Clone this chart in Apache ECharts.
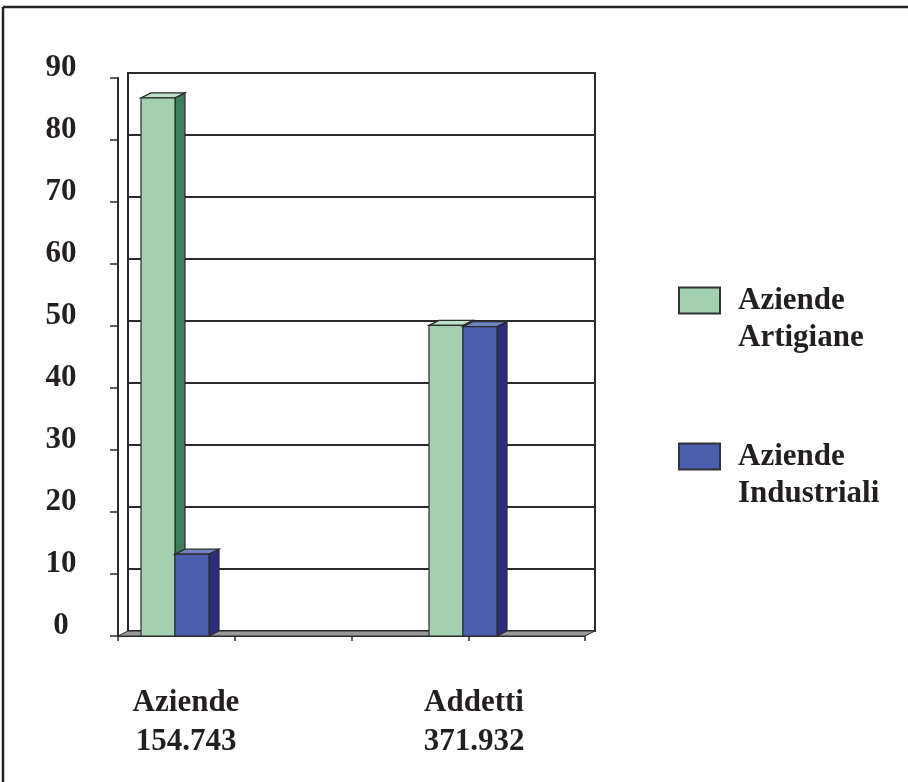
<!DOCTYPE html>
<html>
<head>
<meta charset="utf-8">
<script src="https://cdn.jsdelivr.net/npm/echarts@6/dist/echarts.min.js"></script>
<style>
html,body{margin:0;padding:0;background:#fff;}
#chart{width:908px;height:782px;}
</style>
</head>
<body>
<div id="chart"></div>
<script>
// ---- data ----
const categories = ['Aziende', 'Addetti'];
const categoryTotals = ['154.743', '371.932'];
const seriesNames = ['Aziende Artigiane', 'Aziende Industriali'];
const artigianeValues = [86.8, 50.1];
const industrialiValues = [13.2, 49.9];
const yMin = 0, yMax = 90, yInterval = 10;

// ---- styles ----
const FONT = "'Liberation Serif', 'Times New Roman', serif";
const TXT = '#231f20';
const LINE = '#2b2b2b';
const palettes = [
  { front: '#a2d0b0', side: '#3e7e5d', top: '#bfe0c8', offset: -45 },
  { front: '#4b5fac', side: '#2b2d7c', top: '#7283c4', offset: -11 }
];
const BAR_W = 34, DX = 10, DY = -5;

function makeRender(p) {
  return function (params, api) {
    const i = api.value(0);
    const top = api.coord([i, api.value(1)]);
    const bot = api.coord([i, 0]);
    const x0 = top[0] + p.offset;
    const x1 = x0 + BAR_W;
    const yT = top[1], yB = bot[1];
    const stroke = { stroke: LINE, lineWidth: 1.2 };
    return {
      type: 'group',
      children: [
        { type: 'polygon', shape: { points: [[x1, yT], [x1 + DX, yT + DY], [x1 + DX, yB + DY], [x1, yB]] },
          style: Object.assign({ fill: p.side }, stroke) },
        { type: 'polygon', shape: { points: [[x0, yT], [x0 + DX, yT + DY], [x1 + DX, yT + DY], [x1, yT]] },
          style: Object.assign({ fill: p.top }, stroke) },
        { type: 'rect', shape: { x: x0, y: yT, width: BAR_W, height: yB - yT },
          style: Object.assign({ fill: p.front }, stroke) }
      ]
    };
  };
}

const seriesValues = [artigianeValues, industrialiValues];
const series = seriesNames.map((name, s) => ({
  name: name,
  type: 'custom',
  xAxisIndex: 2,
  yAxisIndex: 2,
  itemStyle: { color: palettes[s].front, borderColor: '#333', borderWidth: 1.5 },
  encode: { x: 0, y: 1 },
  data: seriesValues[s].map((v, i) => [i, v]),
  renderItem: makeRender(palettes[s]),
  z: 3
}));

const chart = echarts.init(document.getElementById('chart'), null, { renderer: 'canvas' });
chart.setOption({
  backgroundColor: '#ffffff',
  animation: false,
  textStyle: { fontFamily: FONT },
  graphic: [
    { type: 'line', shape: { x1: 3, y1: 7, x2: 908, y2: 7 }, style: { stroke: '#222', lineWidth: 2.5 }, z: 10 },
    { type: 'line', shape: { x1: 3, y1: 7, x2: 3, y2: 782 }, style: { stroke: '#222', lineWidth: 2.5 }, z: 10 },
    { type: 'polygon', shape: { points: [[118, 636], [128, 631], [595, 631], [585, 636]] },
      style: { fill: '#9a9a9a', stroke: LINE, lineWidth: 1 }, z: 1 }
  ],
  legend: {
    orient: 'vertical',
    left: 673,
    top: 240,
    itemWidth: 41,
    itemHeight: 26,
    itemGap: 45,
    icon: 'rect',
    data: seriesNames,
    formatter: name => ' \n' + name.replace(' ', '\n'),
    textStyle: {
      fontFamily: FONT, fontSize: 31, fontWeight: 'bold', color: TXT,
      lineHeight: 37, padding: [0, 0, 0, 13]
    }
  },
  grid: [
    { left: 128, top: 73, width: 467, height: 558, show: true, borderColor: LINE, borderWidth: 2, backgroundColor: 'transparent' },
    { left: 118, top: 78, width: 467, height: 558 },
    { left: 42, top: 78, width: 576, height: 558 }
  ],
  xAxis: [
    { gridIndex: 0, type: 'value', min: 0, max: 1, show: false },
    { gridIndex: 1, type: 'value', min: 0, max: 4, interval: 1,
      axisLine: { show: true, lineStyle: { color: LINE, width: 2 } },
      axisTick: { show: true, length: 5, lineStyle: { color: LINE, width: 1.5 } },
      axisLabel: { show: false }, splitLine: { show: false } },
    { gridIndex: 2, type: 'category', data: categories,
      axisLine: { show: false }, axisTick: { show: false }, splitLine: { show: false },
      axisLabel: {
        margin: 47, fontFamily: FONT, fontSize: 31, fontWeight: 'bold', color: TXT, lineHeight: 39,
        formatter: (v, i) => v + '\n' + categoryTotals[i]
      } }
  ],
  yAxis: [
    { gridIndex: 0, type: 'value', min: yMin, max: yMax, interval: yInterval,
      axisLine: { show: false }, axisTick: { show: false }, axisLabel: { show: false },
      splitLine: { show: true, lineStyle: { color: LINE, width: 2 } } },
    { gridIndex: 1, type: 'value', min: yMin, max: yMax, interval: yInterval,
      axisLine: { show: true, lineStyle: { color: LINE, width: 2 } },
      axisTick: { show: true, length: 8, lineStyle: { color: LINE, width: 1.5 } },
      splitLine: { show: false },
      axisLabel: { margin: 57, align: 'center', verticalAlign: 'bottom', lineHeight: 20,
        fontFamily: FONT, fontSize: 31, fontWeight: 'bold', color: TXT } },
    { gridIndex: 2, type: 'value', min: yMin, max: yMax, interval: yInterval, show: false,
      splitLine: { show: false } }
  ],
  series: series
});
</script>
</body>
</html>
